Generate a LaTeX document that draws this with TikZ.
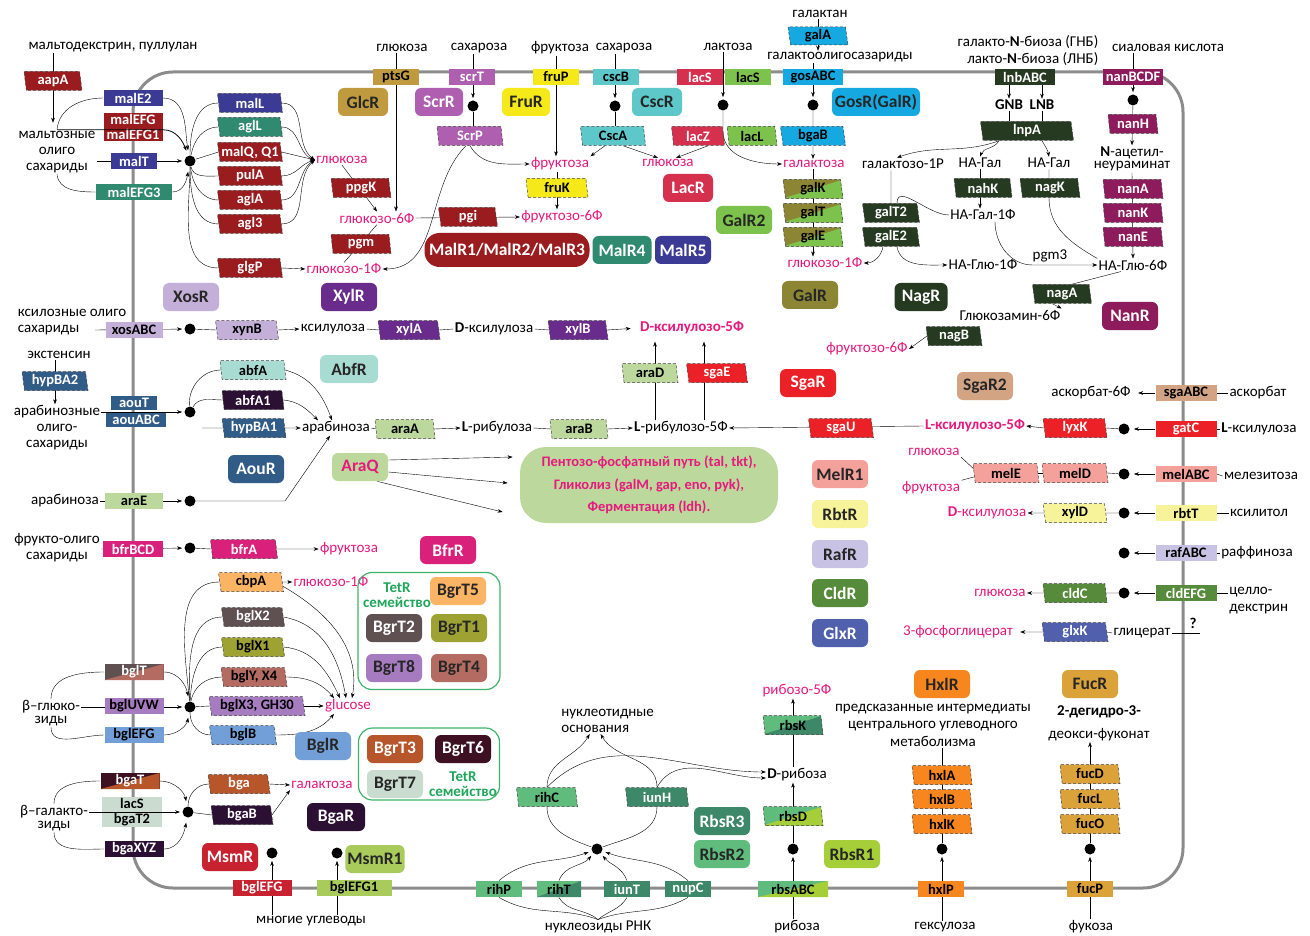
\documentclass[tikz,border=0pt]{standalone}
\usepackage{fontspec}
\setmainfont{Carlito}
\usetikzlibrary{arrows.meta,shapes.geometric,backgrounds,calc,positioning}
\definecolor{maroonc}{HTML}{9B1C1F}
\definecolor{navyc}{HTML}{3B3B96}
\definecolor{tealc}{HTML}{2F8A70}
\definecolor{goldc}{HTML}{C09A3E}
\definecolor{scrc}{HTML}{AE5FB0}
\definecolor{yellowc}{HTML}{F5E91A}
\definecolor{cscc}{HTML}{5EC7C9}
\definecolor{lacred}{HTML}{D6304F}
\definecolor{lacgreen}{HTML}{7CC24C}
\definecolor{skyc}{HTML}{16A9E1}
\definecolor{olivec}{HTML}{8C8634}
\definecolor{dkgreen}{HTML}{253A20}
\definecolor{nanc}{HTML}{8E1C5C}
\definecolor{xosc}{HTML}{C3AFD7}
\definecolor{xylc}{HTML}{6A2C8C}
\definecolor{abfc}{HTML}{A8DCD2}
\definecolor{dkpurple}{HTML}{2C1034}
\definecolor{steelc}{HTML}{325C88}
\definecolor{aragreen}{HTML}{BDD89D}
\definecolor{bfrc}{HTML}{D9217C}
\definecolor{pinktx}{HTML}{E6197D}
\definecolor{peachc}{HTML}{FBB463}
\definecolor{sgared}{HTML}{EC2027}
\definecolor{tanc}{HTML}{D2A484}
\definecolor{salmonc}{HTML}{F4A19B}
\definecolor{lyellow}{HTML}{F6F39B}
\definecolor{lilacc}{HTML}{C8C3E4}
\definecolor{cldc}{HTML}{578B3C}
\definecolor{glxc}{HTML}{5060AC}
\definecolor{orangec}{HTML}{F7861F}
\definecolor{fucc}{HTML}{DCA23A}
\definecolor{limec}{HTML}{A6CE39}
\definecolor{rgreen}{HTML}{5FBC7C}
\definecolor{rdkgreen}{HTML}{3D8868}
\definecolor{msmred}{HTML}{C8212F}
\definecolor{limepale}{HTML}{A9CB5C}
\definecolor{bgrayc}{HTML}{5F5052}
\definecolor{bolive}{HTML}{9DA233}
\definecolor{bbrown}{HTML}{B36B62}
\definecolor{blilac}{HTML}{A67BC0}
\definecolor{bblue}{HTML}{739FD8}
\definecolor{borange}{HTML}{B7552B}
\definecolor{bmaroon}{HTML}{3D1121}
\definecolor{bpale}{HTML}{C9DCCF}
\definecolor{tetgreen}{HTML}{3DB36B}
\definecolor{tettx}{HTML}{1FA65A}
\definecolor{membc}{HTML}{8C8C8C}
\tikzset{
  txt/.style = {font=\fontsize{15}{16}\selectfont, inner sep=1pt},
  btxt/.style = {font=\bfseries\fontsize{15}{16}\selectfont, inner sep=1pt},
  ptxt/.style = {txt, text=pinktx},
  bptxt/.style = {btxt, text=pinktx},
  gene/.style = {font=\bfseries\fontsize{14.5}{15}\selectfont},
  twofill/.style 2 args = {fill=#1, path picture={\fill[#2] (path picture bounding box.south west)
    -- (path picture bounding box.north east) -- (path picture bounding box.south east) -- cycle;}},
  trbox/.style = {rectangle, gene, minimum width=46pt, minimum height=16pt, inner sep=1pt},
  tr/.style = {trbox, fill=#1},
  trw/.style = {trbox, fill=#1, text=white},
  trs/.style 2 args = {trbox, twofill={#1}{#2}},
  enbox/.style = {trapezium, trapezium left angle=100, trapezium right angle=80,
    trapezium stretches body, draw=black!75, densely dashed, line width=0.5pt,
    gene, minimum width=62pt, minimum height=19pt, inner sep=1pt},
  en/.style = {enbox, fill=#1},
  enw/.style = {enbox, fill=#1, text=white},
  ens/.style 2 args = {enbox, twofill={#1}{#2}},
  regbox/.style = {rectangle, rounded corners=6pt, font=\bfseries\fontsize{17.5}{19}\selectfont,
    minimum width=56pt, minimum height=28pt, inner sep=2pt},
  reg/.style = {regbox, fill=#1, text=black!85},
  regw/.style = {regbox, fill=#1, text=white},
  hub/.style = {circle, fill=black, inner sep=0pt, minimum size=11pt},
  arr/.style = {-{Stealth[length=5pt,width=3.6pt]}},
  tetbox/.style = {draw=tetgreen, rounded corners=14pt, line width=1.2pt},
  tetlab/.style = {font=\bfseries\fontsize{15}{15}\selectfont, text=tettx, align=center, inner sep=0pt},
  memb/.style = {draw=membc, line width=3pt, rounded corners=40pt}
}
\begin{document}
\begin{tikzpicture}[x=1pt, y=1pt, line width=0.8pt]
\useasboundingbox (0,0) rectangle (1310,-936);

\node[txt] (mdx) at (113,-47) {мальтодекстрин, пуллулан};
\node[enw=maroonc, minimum width=58pt] (aapA) at (53,-81) {aapA};
\node[txt, align=center] (mos) at (57,-152) {мальтозные\\олиго\\сахариды};
\node[trw=navyc, minimum width=59pt] (malE2) at (133,-98) {malE2};
\node[trw=maroonc, minimum width=59pt, align=center] (malEFG) at (133,-127) {malEFG\\malEFG1};
\node[trw=navyc] (malT) at (134,-161) {malT};
\node[trw=tealc, minimum width=76pt] (malEFG3) at (134,-192) {malEFG3};
\node[hub] (hmal) at (190,-161) {};
\node[enw=navyc, minimum width=65pt] (malL) at (250,-103) {malL};
\node[enw=tealc, minimum width=65pt] (aglL) at (250,-127) {aglL};
\node[enw=maroonc, minimum width=65pt] (malQ) at (250,-152) {malQ, Q1};
\node[enw=maroonc, minimum width=65pt] (pulA) at (250,-176) {pulA};
\node[enw=maroonc, minimum width=65pt] (aglA) at (250,-200) {aglA};
\node[enw=maroonc, minimum width=65pt] (agl3) at (250,-224) {agl3};
\node[enw=maroonc, minimum width=65pt] (glgP) at (250,-268) {glgP};
\node[ptxt] (glc1) at (342,-160) {глюкоза};
\node[ptxt] (g1p1) at (344,-269) {глюкозо-1Ф};

\node[txt] (glcout) at (402,-48) {глюкоза};
\node[tr=goldc] (ptsG) at (396,-77) {ptsG};
\node[reg=goldc, minimum width=50pt] (GlcR) at (363,-102) {GlcR};
\node[enw=maroonc, minimum width=60pt] (ppgK) at (361,-188) {ppgK};
\node[ptxt] (g6p) at (377,-218) {глюкозо-6Ф};
\node[enw=maroonc, minimum width=60pt] (pgm) at (361,-244) {pgm};
\node[enw=maroonc, minimum width=59pt] (pgi) at (468,-217) {pgi};
\node[ptxt] (f6p) at (562,-217) {фруктозо-6Ф};

\node[txt] (sucout) at (479,-48) {сахароза};
\node[trw=scrc] (scrT) at (472,-77) {scrT};
\node[regw=scrc, minimum width=48pt] (ScrR) at (439,-102) {ScrR};
\node[hub] (hscr) at (473,-106) {};
\node[enw=scrc, minimum width=66pt] (ScrP) at (470,-136) {ScrP};
\node[ptxt] (fru1) at (560,-164) {фруктоза};
\node[txt] (fruout) at (560,-48) {фруктоза};
\node[tr=yellowc] (fruP) at (556,-77) {fruP};
\node[reg=yellowc, minimum width=48pt] (FruR) at (526,-102) {FruR};
\node[en=yellowc] (fruK) at (557,-188) {fruK};
\node[txt] (sucout2) at (624,-48) {сахароза};
\node[tr=cscc] (cscB) at (616,-77) {cscB};
\node[reg=cscc, minimum width=50pt] (CscR) at (657,-102) {CscR};
\node[hub] (hcsc) at (615,-106) {};
\node[en=cscc, minimum width=65pt] (CscA) at (613,-136) {CscA};
\node[ptxt] (glc2) at (668,-163) {глюкоза};

\node[regw=maroonc, rounded corners=15pt, minimum width=165pt, minimum height=34pt] (MalR) at (507,-250) {MalR1/MalR2/MalR3};
\node[regw=tealc, minimum width=59pt] (MalR4) at (622,-250) {MalR4};
\node[regw=navyc] (MalR5) at (683,-250) {MalR5};
\node[regw=xylc] (XylR) at (349,-297) {XylR};
\node[reg=xosc] (XosR) at (191,-297) {XosR};

\node[txt] (lacout) at (728,-47) {лактоза};
\node[trw=lacred] (lacS1) at (700,-77) {lacS};
\node[tr=lacgreen] (lacS2) at (748,-77) {lacS};
\node[hub] (hlac) at (723,-105) {};
\node[enw=lacred, minimum width=53pt] (lacZ) at (698,-136) {lacZ};
\node[en=lacgreen, minimum width=50pt] (lacL) at (752,-136) {lacL};
\node[ptxt] (gal1) at (814,-164) {галактоза};
\node[regw=lacred, minimum width=50pt] (LacR) at (688,-188) {LacR};
\node[reg=lacgreen] (GalR2) at (744,-220) {GalR2};

\node[txt] (galan) at (820,-14) {галактан};
\node[en=skyc, minimum width=60pt, minimum height=18pt] (galA) at (818,-36) {galA};
\node[txt] (gos) at (840,-57) {галактоолигосазариды};
\node[tr=skyc, minimum width=60pt] (gosABC) at (813,-77) {gosABC};
\node[reg=skyc, minimum width=88pt] (GosR) at (876,-102) {GosR(GalR)};
\node[hub] (hgos) at (813,-105) {};
\node[en=skyc, minimum width=65pt] (bgaB1) at (813,-136) {bgaB};
\node[ens={olivec}{lacgreen}, minimum width=60pt] (galK) at (813,-189) {galK};
\node[ens={olivec}{lacgreen}, minimum width=60pt] (galT) at (813,-213) {galT};
\node[ens={olivec}{lacgreen}, minimum width=60pt] (galE) at (813,-237) {galE};
\node[ptxt] (g1p2) at (825,-263) {глюкозо-1Ф};
\node[reg=olivec] (GalR) at (810,-295) {GalR};

\node[txt, align=right, font=\fontsize{15}{17}\selectfont] (lnbtx) at (1028,-51) {галакто-\textbf{N}-биоза (ГНБ)\\лакто-\textbf{N}-биоза (ЛНБ)};
\node[trw=dkgreen, minimum width=60pt] (lnbABC) at (1025,-77) {lnbABC};
\node[btxt] (GNB) at (1009,-105) {GNB};
\node[btxt] (LNB) at (1042,-105) {LNB};
\node[enw=dkgreen, minimum width=93pt] (lnpA) at (1027,-131) {lnpA};
\node[txt] (galp) at (903,-164) {галактозо-1Р};
\node[txt] (hagal1) at (980,-163) {НА-Гал};
\node[txt] (hagal2) at (1049,-163) {НА-Гал};
\node[enw=dkgreen, minimum width=58pt] (nahK) at (983,-188) {nahK};
\node[enw=dkgreen, minimum width=60pt] (nagK) at (1050,-188) {nagK};
\node[txt] (hagalp) at (983,-215) {НА-Гал-1Ф};
\node[enw=dkgreen, minimum width=57pt] (galT2) at (891,-213) {galT2};
\node[enw=dkgreen, minimum width=57pt] (galE2) at (891,-237) {galE2};
\node[txt] (haglcp) at (983,-265) {НА-Глю-1Ф};
\node[txt] (pgm3) at (1050,-256) {pgm3};
\node[txt] (haglc6) at (1133,-265) {НА-Глю-6Ф};
\node[regw=dkgreen, minimum width=53pt] (NagR) at (921,-297) {NagR};

\node[txt] (sial) at (1168,-48) {сиаловая кислота};
\node[trw=nanc, minimum width=60pt] (nanBCDF) at (1133,-77) {nanBCDF};
\node[hub] (hnan) at (1133,-100) {};
\node[enw=nanc, minimum width=50pt] (nanH) at (1133,-124) {nanH};
\node[txt, align=center, font=\fontsize{15}{12.5}\selectfont] (neu) at (1132,-159) {\textbf{N}-ацетил-\\неураминат};
\node[enw=nanc, minimum width=60pt] (nanA) at (1133,-189) {nanA};
\node[enw=nanc, minimum width=60pt] (nanK) at (1133,-213) {nanK};
\node[enw=nanc, minimum width=60pt] (nanE) at (1133,-237) {nanE};
\node[enw=dkgreen, minimum width=59pt] (nagA) at (1062,-294) {nagA};
\node[txt] (gln6p) at (1010,-315) {Глюкозамин-6Ф};
\node[enw=dkgreen, minimum width=56pt] (nagB) at (954,-336) {nagB};
\node[ptxt] (f6p2) at (867,-349) {фруктозо-6Ф};
\node[regw=nanc] (NanR) at (1130,-316) {NanR};
\node[reg=tanc] (SgaR2) at (985,-386) {SgaR2};

\node[txt, align=left] (xos) at (72,-322) {ксилозные олиго\\сахариды};
\node[tr=xosc, minimum width=57pt] (xosABC) at (134,-330) {xosABC};
\node[hub] (hxos) at (190,-329) {};
\node[en=xosc, minimum width=63pt] (xynB) at (247,-330) {xynB};
\node[txt] (xul) at (333,-329) {ксилулоза};
\node[enw=xylc] (xylA) at (409,-330) {xylA};
\node[txt] (dxul) at (494,-329) {\textbf{D}-ксилулоза};
\node[enw=xylc, minimum width=60pt] (xylB) at (578,-330) {xylB};
\node[bptxt] (dx5p) at (692,-328) {D-ксилулозо-5Ф};

\node[txt] (ext) at (59,-355) {экстенсин};
\node[enw=steelc, minimum width=66pt] (hypBA2) at (55,-381) {hypBA2};
\node[txt, align=center] (aos) at (57,-428) {арабинозные\\олиго-\\сахариды};
\node[trw=steelc, minimum height=14pt] (aouT) at (134,-403) {aouT};
\node[trw=steelc, minimum width=60pt, minimum height=14pt] (aouABC) at (136,-420) {aouABC};
\node[hub] (hara) at (190,-412) {};
\node[en=abfc, minimum width=66pt] (abfA) at (253,-370) {abfA};
\node[enw=dkpurple] (abfA1) at (253,-400) {abfA1};
\node[enw=steelc, minimum width=64pt] (hypBA1) at (254,-428) {hypBA1};
\coordinate (hyst) at (202,-428);
\node[txt] (ara) at (336,-428) {арабиноза};
\node[regw=steelc] (AouR) at (256,-469) {AouR};
\node[reg=abfc, minimum width=58pt] (AbfR) at (349,-369) {AbfR};
\node[txt] (araout) at (65,-501) {арабиноза};
\node[tr=aragreen, minimum width=58pt] (araE) at (134,-501) {araE};
\node[hub] (harae) at (190,-501) {};
\node[en=aragreen, minimum width=60pt] (araA) at (405,-429) {araA};
\node[txt] (lrib) at (497,-428) {\textbf{L}-рибулоза};
\node[en=aragreen, minimum width=58pt] (araB) at (579,-429) {araB};
\node[txt] (lr5p) at (681,-428) {\textbf{L}-рибулозо-5Ф};
\node[en=aragreen, minimum width=56pt] (araD) at (650,-373) {araD};
\node[enw=sgared, minimum width=61pt] (sgaE) at (717,-373) {sgaE};
\node[regw=sgared] (SgaR) at (808,-383) {SgaR};
\node[enw=sgared, minimum width=65pt] (sgaU) at (841,-428) {sgaU};
\node[bptxt] (lx5p) at (975,-426) {L-ксилулозо-5Ф};
\node[reg=aragreen, text=pinktx] (AraQ) at (360,-467) {AraQ};
\node[rectangle, rounded corners=26pt, fill=aragreen, minimum width=258pt, minimum height=76pt,
  font=\bfseries\fontsize{14.5}{22.5}\selectfont, text=pinktx, align=center] (ppp) at (649,-485)
  {Пентозо-фосфатный путь (tal, tkt),\\Гликолиз (galM, gap, eno, pyk),\\Ферментация (ldh).};

\node[txt, align=center] (fos) at (57,-548) {фрукто-олиго\\сахариды};
\node[trw=bfrc, minimum width=60pt] (bfrBCD) at (133,-549) {bfrBCD};
\node[hub] (hbfr) at (190,-548) {};
\node[enw=bfrc, minimum width=67pt] (bfrA) at (244,-549) {bfrA};
\node[ptxt] (fru2) at (349,-549) {фруктоза};
\node[regw=bfrc] (BfrR) at (448,-550) {BfrR};

\node[en=peachc, minimum width=65pt] (cbpA) at (251,-582) {cbpA};
\node[ptxt] (g1p3) at (331,-582) {глюкозо-1Ф};
\node[enw=bgrayc, minimum width=63pt] (bglX2) at (253,-617) {bglX2};
\node[en=bolive, minimum width=63pt] (bglX1) at (253,-647) {bglX1};
\node[en=bbrown, minimum width=66pt] (bglY) at (254,-677) {bglY, X4};
\node[en=blilac, minimum width=96pt] (bglX3) at (257,-706) {bglX3, GH30};
\node[en=bblue, minimum width=67pt] (bglB) at (243,-735) {bglB};
\node[ptxt] (glcs) at (348,-706) {glucose};
\node[txt, align=center, font=\fontsize{15}{13}\selectfont] (bglc) at (51,-713) {β–глюко-\\зиды};
\node[trs={bgrayc}{bbrown}, text=white, minimum width=59pt] (bglT) at (134,-672) {bglT};
\node[tr=blilac, minimum width=59pt] (bglUVW) at (134,-706) {bglUVW};
\node[tr=bblue, minimum width=59pt] (bglEFG) at (134,-735) {bglEFG};
\node[hub] (hbgl) at (190,-707) {};
\node[reg=bblue] (BglR) at (323,-746) {BglR};

\node[txt, align=center, font=\fontsize{15}{13}\selectfont] (bgal) at (54,-818) {β–галакто-\\зиды};
\node[trs={bmaroon}{borange}, text=white, minimum width=59pt] (bgaT) at (130,-781) {bgaT};
\node[tr=bpale, minimum width=60pt, align=center] (lacS3) at (132,-812) {lacS\\bgaT2};
\node[trw=dkpurple, minimum width=59pt] (bgaXYZ) at (134,-849) {bgaXYZ};
\node[hub] (hbga) at (188,-812) {};
\node[enw=borange] (bga) at (239,-784) {bga};
\node[enw=dkpurple] (bgaB2) at (242,-815) {bgaB};
\node[ptxt] (gal2) at (322,-785) {галактоза};
\node[regw=dkpurple, minimum width=58pt] (BgaR) at (336,-817) {BgaR};

\node[tetbox, minimum width=142pt, minimum height=117pt] (tet1) at (429,-631) {};
\node[tetlab] (tet1lab) at (397,-595) {TetR\\семейство};
\node[reg=peachc] (BgrT5) at (458,-591) {BgrT5};
\node[regw=bgrayc] (BgrT2) at (394,-628) {BgrT2};
\node[reg=bolive] (BgrT1) at (459,-628) {BgrT1};
\node[reg=blilac] (BgrT8) at (394,-668) {BgrT8};
\node[reg=bbrown] (BgrT4) at (459,-668) {BgrT4};
\node[tetbox, minimum width=141pt, minimum height=72pt] (tet2) at (429,-764) {};
\node[regw=borange] (BgrT3) at (395,-749) {BgrT3};
\node[regw=bmaroon] (BgrT6) at (463,-749) {BgrT6};
\node[reg=bpale] (BgrT7) at (395,-784) {BgrT7};
\node[tetlab] (tet2lab) at (463,-784) {TetR\\семейство};

\node[regw=msmred] (MsmR) at (230,-857) {MsmR};
\node[hub] (hmsm) at (272,-853) {};
\node[trw=msmred, minimum width=59pt] (bglEFGm) at (262,-888) {bglEFG};
\node[hub] (hmsm1) at (337,-853) {};
\node[tr=limepale, minimum width=75pt] (bglEFG1) at (354,-888) {bglEFG1};
\node[reg=limepale] (MsmR1) at (375,-859) {MsmR1};
\node[txt] (many) at (311,-921) {многие углеводы};

\node[txt, align=left, anchor=west] (nucb) at (560,-721) {нуклеотидные\\основания};
\node[en=rgreen, minimum width=61pt] (rihC) at (547,-797) {rihC};
\node[enw=rdkgreen, minimum width=63pt] (iunH) at (657,-797) {iunH};
\node[hub] (hnuc) at (597,-849) {};
\node[tr=rgreen] (rihP) at (499,-889) {rihP};
\node[trs={rgreen}{rdkgreen}, minimum width=44pt] (rihT) at (559,-889) {rihT};
\node[trw=rdkgreen] (iunT) at (627,-889) {iunT};
\node[trw=rdkgreen] (nupC) at (688,-889) {nupC};
\node[txt] (nucr) at (598,-927) {нуклеозиды РНК};

\node[ptxt] (r5p) at (797,-691) {рибозо-5Ф};
\node[ens={rgreen}{rdkgreen}, minimum width=60pt] (rbsK) at (793,-725) {rbsK};
\node[txt] (drib) at (797,-775) {\textbf{D}-рибоза};
\node[ens={rgreen}{limec}, minimum width=60pt] (rbsD) at (793,-816) {rbsD};
\node[hub] (hrbs) at (793,-849) {};
\node[trs={rgreen}{limec}, minimum width=70pt] (rbsABC) at (793,-889) {rbsABC};
\node[txt] (rib) at (797,-927) {рибоза};
\node[regw=rdkgreen] (RbsR3) at (722,-821) {RbsR3};
\node[reg=rgreen] (RbsR2) at (722,-854) {RbsR2};
\node[reg=limec] (RbsR1) at (852,-854) {RbsR1};

\node[reg=orangec] (HxlR) at (942,-684) {HxlR};
\node[txt, align=center, font=\fontsize{15}{17.5}\selectfont] (pred) at (933,-725) {предсказанные интермедиаты\\центрального углеводного\\метаболизма};
\node[en=orangec, minimum width=60pt] (hxlA) at (942,-775) {hxlA};
\node[en=orangec, minimum width=60pt] (hxlB) at (942,-799) {hxlB};
\node[en=orangec, minimum width=60pt] (hxlK) at (942,-824) {hxlK};
\node[hub] (hhxl) at (942,-849) {};
\node[tr=orangec] (hxlP) at (941,-889) {hxlP};
\node[txt] (hexu) at (945,-927) {гексулоза};

\node[reg=fucc] (FucR) at (1090,-684) {FucR};
\node[txt, align=center, font=\fontsize{15}{23}\selectfont] (defuc) at (1099,-723) {\textbf{2-дегидро-3-}\\деокси-фуконат};
\node[en=fucc, minimum width=60pt] (fucD) at (1090,-774) {fucD};
\node[en=fucc, minimum width=60pt] (fucL) at (1090,-799) {fucL};
\node[en=fucc, minimum width=60pt] (fucO) at (1090,-824) {fucO};
\node[hub] (hfuc) at (1090,-849) {};
\node[tr=fucc] (fucP) at (1090,-889) {fucP};
\node[txt] (fuc) at (1091,-927) {фукоза};

\node[txt] (asc6) at (1091,-393) {аскорбат-6Ф};
\node[tr=tanc, minimum width=61pt] (sgaABC) at (1186,-393) {sgaABC};
\node[txt] (asc) at (1258,-393) {аскорбат};
\node[enw=sgared, minimum width=64pt] (lyxK) at (1075,-428) {lyxK};
\node[hub] (hlyx) at (1124,-429) {};
\node[trw=sgared, minimum width=61pt] (gatC) at (1186,-429) {gatC};
\node[txt] (lxul) at (1259,-429) {\textbf{L}-ксилулоза};
\node[ptxt] (glc3) at (934,-452) {глюкоза};
\node[ptxt] (fru3) at (931,-488) {фруктоза};
\node[en=salmonc, minimum width=66pt] (melE) at (1006,-473) {melE};
\node[en=salmonc, minimum width=66pt] (melD) at (1075,-473) {melD};
\node[hub] (hmel) at (1124,-474) {};
\node[tr=salmonc, minimum width=61pt] (melABC) at (1186,-474) {melABC};
\node[txt] (melz) at (1261,-476) {мелезитоза};
\node[ptxt] (dxul2) at (987,-513) {\textbf{D}-ксилулоза};
\node[en=lyellow, minimum width=64pt] (xylD) at (1075,-513) {xylD};
\node[hub] (hxyl) at (1124,-513) {};
\node[tr=lyellow, minimum width=61pt] (rbtT) at (1186,-513) {rbtT};
\node[txt] (xlt) at (1259,-513) {ксилитол};
\node[hub] (hraf) at (1124,-553) {};
\node[tr=lilacc, minimum width=61pt] (rafABC) at (1186,-553) {rafABC};
\node[txt] (raff) at (1257,-553) {раффиноза};
\node[ptxt] (glc4) at (1000,-593) {глюкоза};
\node[enw=cldc, minimum width=64pt] (cldC) at (1075,-593) {cldC};
\node[hub] (hcld) at (1124,-593) {};
\node[trw=cldc, minimum width=61pt] (cldEFG) at (1186,-593) {cldEFG};
\node[txt, align=left, anchor=west, font=\fontsize{15}{17}\selectfont] (cdx) at (1228,-601) {целло-\\декстрин};
\node[ptxt] (pga) at (958,-632) {3-фосфоглицерат};
\node[enw=glxc, minimum width=66pt] (glxK) at (1075,-632) {glxK};
\node[txt] (glyc) at (1142,-633) {глицерат};
\coordinate (glyq) at (1200,-633);
\node[btxt] (qm) at (1193,-623) {?};

\node[reg=salmonc] (MelR1) at (840,-474) {MelR1};
\node[reg=lyellow] (RbtR) at (840,-514) {RbtR};
\node[reg=lilacc] (RafR) at (840,-554) {RafR};
\node[regw=cldc] (CldR) at (840,-593) {CldR};
\node[regw=glxc] (GlxR) at (840,-633) {GlxR};

\draw[arr, shorten >=5pt] (mos.north) -- (mos.north -| malEFG.east) to[out=0,in=110] (hmal);
\draw[arr, shorten >=2pt] (bgal.east |- hbga) -- (hbga);

\begin{scope}[on background layer]
\fill[white] (0,0) rectangle (1310,-936);
\draw[memb] (133,-72) rectangle (1183,-888);

\draw[arr, shorten >=7pt] (mdx.south -| aapA) -- (mos.north -| aapA);
\draw (mos.north) to[out=85,in=180] (malE2.west);
\draw[arr, shorten >=5pt] (malE2.east) to[out=0,in=100] (hmal);
\draw[arr, shorten >=2pt] (mos.east |- malT) -- (hmal);
\draw (mos.south) to[out=-85,in=180] (malEFG3.west);
\draw[arr, shorten >=5pt] (malEFG3.east) to[out=0,in=-100] (hmal);
\draw (hmal) to[out=90,in=180] (malL.west);
\draw (hmal) to[out=80,in=180] (aglL.west);
\draw (hmal) -- (malQ.west);
\draw (hmal) to[out=-80,in=180] (pulA.west);
\draw (hmal) to[out=-85,in=180] (aglA.west);
\draw (hmal) to[out=-90,in=180] (agl3.west);
\draw (hmal) to[out=-90,in=180] (glgP.west);
\draw[arr] (malL.east) to[out=0,in=145] (glc1.west);
\draw[arr] (aglL.east) to[out=0,in=160] (glc1.west);
\draw[arr] (malQ.east) -- (glc1.west);
\draw[arr] (pulA.east) to[out=0,in=195] (glc1.west);
\draw[arr] (aglA.east) to[out=0,in=210] (glc1.west);
\draw[arr] (agl3.east) to[out=0,in=220] (glc1.west);
\draw[arr] (glgP.east) -- (g1p1.west);

\draw[arr] (glcout.south -| ptsG) -- (g6p.north -| ptsG);
\draw[arr] (glc1.south) -- (g6p.north);
\draw (g6p.south) -- (g1p1.north);
\draw[arr] (g6p.east) -- (f6p.west);
\draw[arr, shorten >=2pt] (sucout.south -| hscr) -- (hscr);
\draw (hscr) -- (hscr |- ScrP.north);
\draw[arr] (ScrP.south) to[out=-60,in=180] (fru1.west);
\draw[arr] ([xshift=-4pt]ScrP.south) to[out=-135,in=0] (g1p1.east);
\draw[arr] (fruout.south -| fruP) -- (fru1.north -| fruP);
\draw[arr] (fru1.south -| fruK) -- (f6p.north -| fruK);
\draw[arr, shorten >=2pt] (sucout2.south -| hcsc) -- (hcsc);
\draw (hcsc) -- (hcsc |- CscA.north);
\draw[arr] ([xshift=-8pt]CscA.south) -- (fru1.north east);
\draw[arr] ([xshift=10pt]CscA.south) -- ([xshift=-10pt]glc2.north);

\draw[arr, shorten >=2pt] (lacout.south -| hlac) -- (hlac);
\draw[arr] (hlac) -- ++(0,-26) to[out=-90,in=180] (gal1.west);
\draw[arr] ([xshift=10pt]lacZ.south) -- ([xshift=8pt]glc2.north);
\draw[arr] (galan.south -| galA) -- (gos.north -| galA);
\draw[arr, shorten >=2pt] (gos.south -| hgos) -- (hgos);
\draw (hgos) -- (bgaB1.north);
\draw[arr] (bgaB1.south) -- (gal1.north -| bgaB1);
\draw[arr] (gal1.south -| galK) -- (g1p2.north -| galK);

\draw[arr] (lnbABC.south -| GNB) -- (GNB.north);
\draw[arr] (lnbABC.south -| LNB) -- (LNB.north);
\draw (GNB.south) -- (GNB.south |- lnpA.north);
\draw (LNB.south) -- (LNB.south |- lnpA.north);
\draw[arr] ([xshift=-28pt]lnpA.south) to[out=-120,in=70] (hagal1.north);
\draw[arr] ([xshift=15pt]lnpA.south) to[out=-60,in=100] (hagal2.north);
\draw[arr] ([xshift=-28pt]lnpA.south) to[out=200,in=20] ([xshift=-6pt]galp.north);
\draw[arr] (hagal1.south) -- (hagalp.north -| hagal1);
\draw (hagal2.south) -- (nagK.south -| hagal2) to[out=-90,in=150] (haglc6.north west);
\draw (galp.south -| galT2) -- (galT2.south);
\draw ([xshift=6pt]galT2.north) to[out=90,in=180] (hagalp.west);
\draw[arr] ([xshift=-8pt]galE2.south) to[out=-100,in=0] (g1p2.east);
\draw[arr] ([xshift=6pt]galE2.south) to[out=-80,in=180] (haglcp.west);
\draw[arr] ([xshift=12pt]hagalp.south) to[out=-90,in=180] ([xshift=14pt]haglcp.east) -- (haglc6.west);

\draw[arr, shorten >=2pt] (sial.south -| hnan) -- (hnan);
\draw[arr] (hnan) -- (neu.north);
\draw[arr] (neu.south) -- (haglc6.north);
\draw ([xshift=-12pt]haglc6.south) -- (nagA.north east);
\draw[arr] (nagA.south west) -- (gln6p.north east);
\draw[arr] (nagB.west) -- (f6p2.east);

\draw[arr, shorten >=2pt] ([xshift=-10pt]xosABC.west) -- (hxos);
\draw (hxos) -- (xynB.west);
\draw[arr] (xynB.east) -- (xul.west);
\draw (xul.east) -- (xylA.west);
\draw (xylA.east) -- (dxul.west);
\draw (dxul.east) -- (xylB.west);
\draw[arr, shorten >=8pt] (xylB.east) -- (dx5p.west);

\draw[arr] (ext.south -| hypBA2) -- (aos.north -| hypBA2);
\draw[arr, shorten >=2pt] (aos.east |- hara) -- (hara);
\draw (hara) to[out=95,in=180] (abfA.west);
\draw (hara) to[out=60,in=180] (abfA1.west);
\draw (hyst) -- (hypBA1.west);
\draw[arr] (abfA.east) to[out=-15,in=110] ([xshift=-4pt]ara.north);
\draw[arr] (abfA1.east) to[out=-5,in=135] ([xshift=-18pt]ara.north);
\draw[arr] (hypBA1.east) -- (ara.west);
\draw[arr, shorten >=2pt] (araout.east) -- (harae);
\draw[arr] (harae) -- ++(95,0) -- ([xshift=-6pt]ara.south);
\draw (ara.east) -- (araA.west);
\draw[arr] (araA.east) -- (lrib.west);
\draw (lrib.east) -- (araB.west);
\draw[arr] (araB.east) -- (lr5p.west);
\draw[arr] ($(araD.center |- lr5p.north)+(5,0)$) -- ($(araD.center |- dx5p.south)+(5,-6)$);
\draw[arr] ($(sgaE.center |- lr5p.north)+(-13,0)$) -- ($(sgaE.center |- dx5p.south)+(-13,-6)$);
\draw[arr] (lx5p.west) -- (lr5p.east);
\draw[arr] ($(AraQ.east)+(0,7)$) -- ($(ppp.west)+(-7,28)$);
\draw[arr] ($(AraQ.east)+(0,-5)$) -- ($(ppp.west)+(-12,2)$);
\draw[arr] ($(AraQ.south east)+(-11,0)$) -- ($(ppp.west)+(-17,-27)$);

\draw[arr, shorten >=2pt] (fos.east |- bfrBCD) -- (hbfr);
\draw (hbfr) -- (bfrA.west);
\draw[arr] (bfrA.east) -- (fru2.west);
\draw[arr] (cbpA.east) -- (g1p3.west);

\draw[arr, shorten >=2pt] (bglc.east |- hbgl) -- (hbgl);
\draw (bglc.north) to[out=90,in=180] (bglT.west);
\draw[arr, shorten >=5pt] (bglT.east) to[out=0,in=100] (hbgl);
\draw (bglc.south) to[out=-90,in=180] (bglEFG.west);
\draw[arr, shorten >=5pt] (bglEFG.east) to[out=0,in=-100] (hbgl);
\draw (hbgl) to[out=95,in=180] (cbpA.west);
\draw (hbgl) to[out=92,in=180] (bglX2.west);
\draw (hbgl) to[out=88,in=180] (bglX1.west);
\draw (hbgl) to[out=80,in=180] (bglY.west);
\draw (hbgl) -- (bglX3.west);
\draw (hbgl) to[out=-90,in=180] (bglB.west);
\draw[arr] ([yshift=-4pt]cbpA.east) to[out=-30,in=80] ([xshift=4pt]glcs.north);
\draw[arr] (bglX2.east) to[out=-10,in=100] ([xshift=-2pt]glcs.north);
\draw[arr] (bglX1.east) to[out=-5,in=115] ([xshift=-8pt]glcs.north);
\draw[arr] (bglY.east) to[out=0,in=130] ([xshift=-14pt]glcs.north);
\draw[arr] (bglX3.east) -- (glcs.west);
\draw[arr] (bglB.east) to[out=0,in=-130] ([xshift=-14pt]glcs.south);

\draw (bgal.north) to[out=90,in=180] (bgaT.west);
\draw[arr, shorten >=5pt] (bgaT.east) to[out=0,in=100] (hbga);
\draw (bgal.south) to[out=-90,in=180] (bgaXYZ.west);
\draw[arr, shorten >=5pt] (bgaXYZ.east) to[out=0,in=-100] (hbga);
\draw (hbga) to[out=90,in=180] (bga.west);
\draw (hbga) -- (bgaB2.west);
\draw[arr] (bga.east) -- (gal2.west);
\draw[arr] (bgaB2.east) -- (gal2.south west);

\draw[arr, shorten >=2pt] (many.north -| hmsm) -- (hmsm);
\draw[arr, shorten >=2pt] (many.north -| hmsm1) -- (hmsm1);

\draw (hnuc) to[out=160,in=-90] (rihC.south);
\draw (hnuc) to[out=20,in=-90] (iunH.south);
\draw[arr] (rihC.north) to[out=90,in=-120] ([xshift=-18pt]nucb.south);
\draw[arr] (iunH.north) to[out=90,in=-60] ([xshift=-7pt]nucb.south);
\draw[arr] (rihC.north) to[out=45,in=180] ([yshift=3pt]drib.west);
\draw[arr] (iunH.north) to[out=60,in=180] ([yshift=-3pt]drib.west);
\draw (nucr.north) to[out=160,in=-30] (rihP.south);
\draw (nucr.north) to[out=140,in=-60] (rihT.south);
\draw (nucr.north) to[out=40,in=-120] (iunT.south);
\draw (nucr.north) to[out=20,in=-150] (nupC.south);
\draw[arr, shorten >=3pt] (rihP.north) to[out=40,in=-160] (hnuc);
\draw[arr, shorten >=3pt] (rihT.north) to[out=70,in=-130] (hnuc);
\draw[arr, shorten >=3pt] (iunT.north) to[out=110,in=-50] (hnuc);
\draw[arr, shorten >=3pt] (nupC.north) to[out=140,in=-20] (hnuc);

\draw[arr, shorten >=2pt] (rib.north -| hrbs) -- (hrbs);
\draw[arr] (hrbs) -- (drib.south -| hrbs);
\draw[arr] (drib.north -| hrbs) -- (r5p.south -| hrbs);
\draw[arr, shorten >=2pt] (hexu.north -| hhxl) -- (hhxl);
\draw (hhxl) -- (hhxl |- pred.south);
\draw[arr, shorten >=2pt] (fuc.north -| hfuc) -- (hfuc);
\draw[arr] (hfuc) -- (hfuc |- defuc.south);

\draw (asc.west) -- (sgaABC.east);
\draw[arr, shorten >=6pt] (sgaABC.west) -- (asc6.east);
\draw (lxul.west) -- (gatC.east);
\draw[arr, shorten >=4pt] (gatC.west) -- (hlyx);
\draw (hlyx) -- (lyxK.east);
\draw[arr] (lyxK.west) -- (lx5p.east);
\draw (glc3.south east) -- ([yshift=4pt]melE.west);
\draw (fru3.north east) -- ([yshift=-4pt]melE.west);
\draw (melE.east) -- (melD.west);
\draw (melD.east) -- (hmel);
\draw[arr, shorten >=4pt] (melABC.west) -- (hmel);
\draw (melz.west) -- (melABC.east);
\draw[arr] (xylD.west) -- (dxul2.east);
\draw (hxyl) -- (xylD.east);
\draw[arr, shorten >=4pt] (rbtT.west) -- (hxyl);
\draw (xlt.west) -- (rbtT.east);
\draw[arr, shorten >=4pt] (rafABC.west) -- (hraf);
\draw (raff.west) -- (rafABC.east);
\draw[arr] (cldC.west) -- (glc4.east);
\draw (hcld) -- (cldC.east);
\draw[arr, shorten >=4pt] (cldEFG.west) -- (hcld);
\draw (cdx.west |- cldEFG) -- (cldEFG.east);
\draw[arr, shorten >=6pt] (glxK.west) -- (pga.east);
\draw (glyc.west) -- (glxK.east);
\draw (glyc.east) -- (glyq);
\end{scope}
\end{tikzpicture}
\end{document}
